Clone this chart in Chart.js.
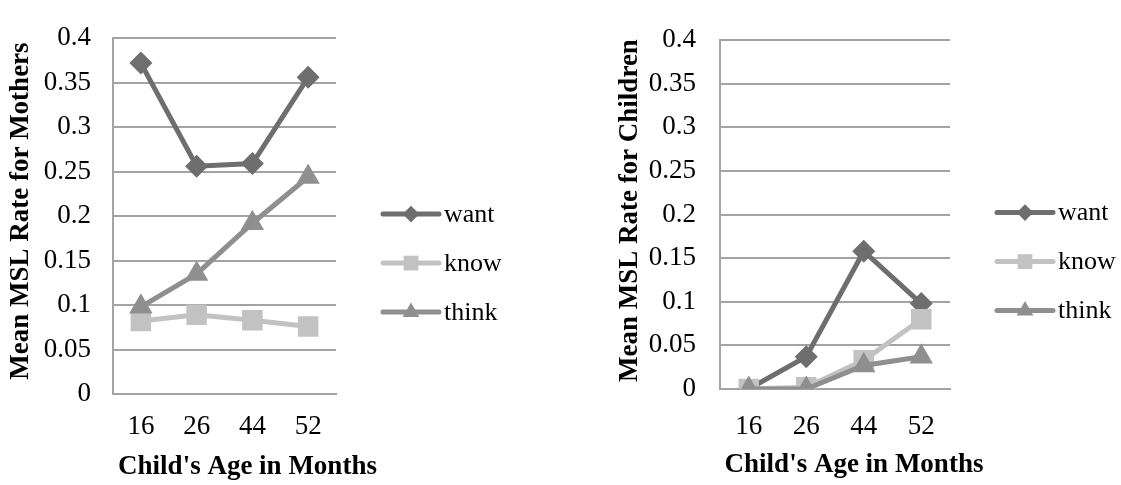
<!DOCTYPE html>
<html lang="en">
<head>
    <meta charset="UTF-8">
    <title>Mean MSL Rate by Child's Age</title>
    <script src="https://cdn.jsdelivr.net/npm/chart.js"></script>
    <style>
        body { margin: 0; background: #fff; }
        .painel { position: absolute; top: 0; }
        #painelMaes { left: 0; }
        #painelFilhos { left: 560px; }
    </style>
</head>
<body>
    <div class="painel" id="painelMaes"><canvas id="graficoMaes" width="560" height="485"></canvas></div>
    <div class="painel" id="painelFilhos"><canvas id="graficoFilhos" width="561" height="485"></canvas></div>

    <script>
        // dados
        const idades = ['16', '26', '44', '52'];
        const yTicks = ['0', '0.05', '0.1', '0.15', '0.2', '0.25', '0.3', '0.35', '0.4'];

        const maesWant  = [0.372, 0.256, 0.259, 0.356];
        const maesKnow  = [0.082, 0.089, 0.083, 0.076];
        const maesThink = [0.098, 0.135, 0.192, 0.244];

        const filhosWant  = [0, 0.037, 0.158, 0.098];
        const filhosKnow  = [0, 0.002, 0.033, 0.080];
        const filhosThink = [0, 0, 0.027, 0.037];

        const tituloX = "Child's Age in Months";
        const fonte = 'Liberation Serif';
        const cinzaGrade = '#a3a3a3';

        const estilos = {
            want:  { cor: '#6e6e6e', ponto: 'rectRot',  raio: 11.5, ordem: 3 },
            know:  { cor: '#c2c2c2', ponto: 'rect',     raio: 14.5, ordem: 2 },
            think: { cor: '#8f8f8f', ponto: 'triangle', raio: 13.5, ordem: 1 }
        };

        function serie(nome, valores) {
            const e = estilos[nome];
            return {
                label: nome,
                data: valores,
                borderColor: e.cor,
                backgroundColor: e.cor,
                borderWidth: 5,
                pointStyle: e.ponto,
                pointRadius: e.raio,
                pointBorderWidth: 0,
                pointBackgroundColor: e.cor,
                order: e.ordem,
                tension: 0
            };
        }

        // legenda desenhada a mao: linha com marcador e texto
        const legendaLinha = {
            id: 'legendaLinha',
            afterDraw(chart) {
                const ctx = chart.ctx;
                const area = chart.chartArea;
                const x0 = area.right + 47;
                const comp = 56;
                const centro = (area.top + area.bottom) / 2 + 47;
                const passo = 49;
                const n = chart.data.datasets.length;
                chart.data.datasets.forEach((ds, i) => {
                    const y = centro + (i - (n - 1) / 2) * passo;
                    ctx.save();
                    ctx.strokeStyle = ds.borderColor;
                    ctx.lineWidth = 5;
                    ctx.lineCap = 'round';
                    ctx.beginPath();
                    ctx.moveTo(x0, y);
                    ctx.lineTo(x0 + comp, y);
                    ctx.stroke();
                    ctx.fillStyle = ds.backgroundColor;
                    ctx.strokeStyle = ds.backgroundColor;
                    ctx.lineWidth = 0.01;
                    Chart.helpers.drawPoint(ctx, { pointStyle: ds.pointStyle, radius: ds.pointRadius * 0.72, borderWidth: 0, rotation: 0 }, x0 + comp / 2, y);
                    ctx.fillStyle = '#000';
                    ctx.font = '26px "' + fonte + '"';
                    ctx.textBaseline = 'middle';
                    ctx.textAlign = 'left';
                    ctx.fillText(ds.label, x0 + comp + 5, y + 1);
                    ctx.restore();
                });
            }
        };

        // titulos dos eixos (sem compressao de largura)
        function titulos(tituloY, cfg) {
            return {
                id: 'titulos',
                afterDraw(chart) {
                    const ctx = chart.ctx;
                    const area = chart.chartArea;
                    ctx.save();
                    ctx.fillStyle = '#000';
                    ctx.font = 'bold 27px "' + fonte + '"';
                    ctx.textAlign = 'center';
                    ctx.textBaseline = 'middle';
                    ctx.fillText(tituloX, (area.left + area.right) / 2 + cfg.desvioX, cfg.yTituloX);
                    ctx.translate(cfg.xTituloY, (area.top + area.bottom) / 2 + cfg.desvioY);
                    ctx.rotate(-Math.PI / 2);
                    ctx.fillText(tituloY, 0, 0);
                    ctx.restore();
                }
            };
        }

        function criarGrafico(id, tituloY, want, know, think, cfg) {
            new Chart(document.getElementById(id), {
                type: 'line',
                data: {
                    labels: idades,
                    datasets: [serie('want', want), serie('know', know), serie('think', think)]
                },
                options: {
                    responsive: false,
                    animation: false,
                    layout: { padding: { top: cfg.topo, right: 0, left: 0, bottom: 0 } },
                    plugins: { legend: { display: false }, tooltip: { enabled: false } },
                    scales: {
                        x: {
                            offset: true,
                            grid: { display: false, drawTicks: false },
                            border: { display: true, color: cinzaGrade, width: 2 },
                            ticks: { color: '#000', padding: cfg.padX, font: { family: fonte, size: 27 } },
                            afterFit(scale) { scale.height = cfg.alturaX; }
                        },
                        y: {
                            min: 0, max: 0.4,
                            grid: { color: cinzaGrade, lineWidth: 2, drawTicks: false },
                            border: { display: true, color: cinzaGrade, width: 2 },
                            ticks: {
                                stepSize: 0.05, color: '#000', padding: cfg.padY,
                                font: { family: fonte, size: 27 },
                                callback: (v) => yTicks[Math.round(v / 0.05)]
                            },
                            afterFit(scale) { scale.width = cfg.larguraY; }
                        }
                    }
                },
                plugins: [legendaLinha, titulos(tituloY, cfg), {
                    id: 'areaFixa',
                    beforeLayout(chart) {
                        chart.options.layout.padding.right = chart.width - cfg.direita;
                    }
                }]
            });
        }

        criarGrafico('graficoMaes', 'Mean MSL Rate for Mothers', maesWant, maesKnow, maesThink,
            { topo: 20, alturaX: 91, larguraY: 113, direita: 336, padX: 17, padY: 22,
              desvioX: 23, yTituloX: 467, xTituloY: 21, desvioY: -5 });
        criarGrafico('graficoFilhos', 'Mean MSL Rate for Children', filhosWant, filhosKnow, filhosThink,
            { topo: 15, alturaX: 96, larguraY: 160, direita: 390, padX: 22, padY: 24,
              desvioX: 19, yTituloX: 465, xTituloY: 70, desvioY: -4 });
    </script>
</body>
</html>
